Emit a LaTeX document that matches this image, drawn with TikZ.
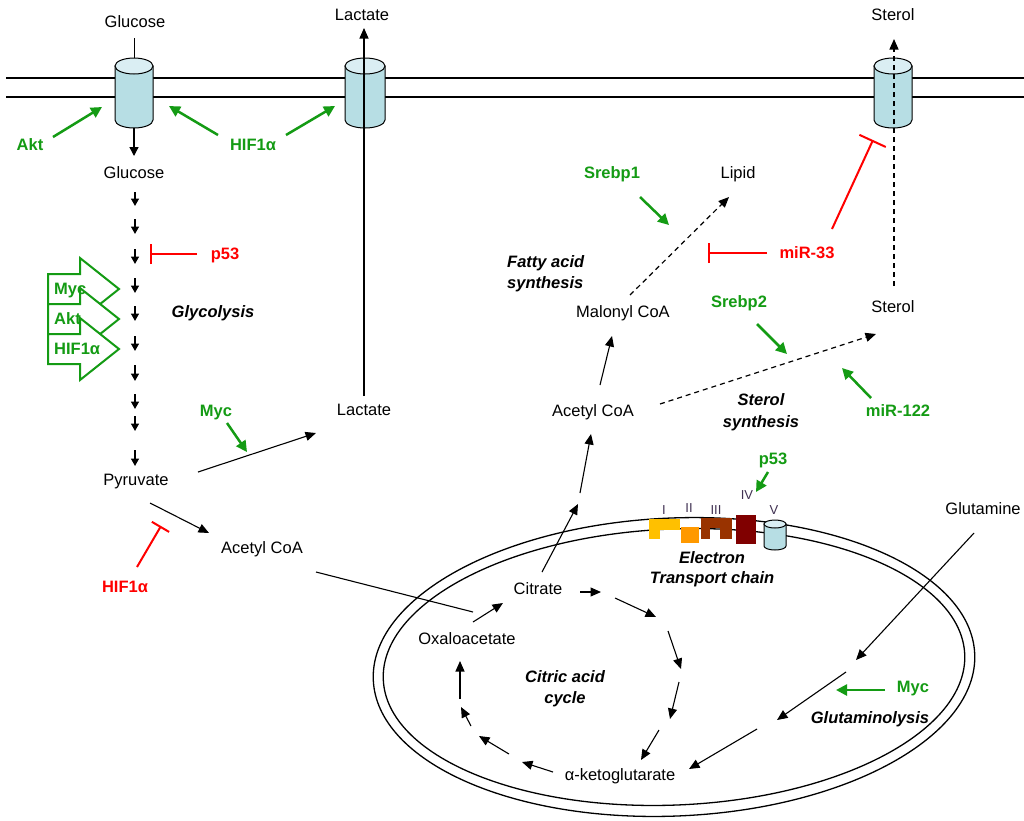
\documentclass[tikz,border=0pt]{standalone}
\usepackage{fontspec}
\setmainfont{Liberation Sans}
\usetikzlibrary{arrows.meta}
\definecolor{grn}{RGB}{20,155,20}
\definecolor{cylbody}{RGB}{183,222,228}
\definecolor{cyltop}{RGB}{218,238,243}
\definecolor{cI}{RGB}{255,192,0}
\definecolor{cII}{RGB}{255,153,0}
\definecolor{cIII}{RGB}{153,51,0}
\definecolor{cIV}{RGB}{128,0,0}
\definecolor{numc}{RGB}{64,49,82}
\newcommand\myfs{\fontsize{16.5}{19.5}\selectfont}
\newcommand\mycyl[5]{%
  \filldraw[fill=cylbody,line width=1pt] ({#1-#4},#2) -- ({#1-#4},#3) arc[start angle=180,end angle=0,x radius=#4,y radius=#5] -- ({#1+#4},#2) -- cycle;
  \filldraw[fill=cyltop,line width=1pt] (#1,#2) ellipse[x radius=#4,y radius=#5];
}
\begin{document}
\begin{tikzpicture}[x=1pt,y=-1pt,
  lbl/.style={font=\myfs, inner sep=0pt, text height=11.8pt, text depth=0pt},
  glbl/.style={lbl, font=\myfs\bfseries, text=grn},
  rlbl/.style={lbl, font=\myfs\bfseries, text=red},
  blbl/.style={lbl, font=\myfs\bfseries\itshape},
  nlbl/.style={inner sep=0pt, font=\fontsize{13}{15}\selectfont, text=numc, text height=9.3pt, text depth=0pt},
  arr/.style={line width=1.1pt, -{Triangle[length=10.5pt,width=9pt]}},
  sarr/.style={line width=1.5pt, -{Triangle[length=7.5pt,width=8pt]}},
  garr/.style={draw=grn, line width=2.5pt, -{Triangle[length=11pt,width=11pt]}},
  inh/.style={draw=red, line width=2pt, -{Bar[width=20pt]}},
  dsh/.style={line width=1.2pt, dash pattern=on 5pt off 4pt, -{Triangle[length=10.5pt,width=9pt]}},
  memb/.style={line width=1.3pt},
  blk/.style={fill=white, draw=grn, line width=2pt}
]
\useasboundingbox (0,0) rectangle (1024,820);
\fill[white] (0,0) rectangle (1024,820);

% cell membrane
\draw[memb] (6,78) -- (1024,78);
\draw[memb] (6,97) -- (1024,97);

% mitochondrion
\draw[memb, rotate around={2.5:(674,667)}] (674,667) ellipse[x radius=301, y radius=149];
\draw[memb, rotate around={2.5:(674,667)}] (674,667) ellipse[x radius=291, y radius=138];

% transporters
\mycyl{134}{66}{120}{19}{8}
\mycyl{365}{66}{120}{20}{8}
\mycyl{893}{66}{120}{19}{8}

% electron transport chain complexes
\filldraw[fill=cI, draw=cI] (649,519) -- (679,519) -- (679,529) -- (659,529) -- (659,538) -- (649,538) -- cycle;
\filldraw[fill=cII, draw=cII] (681,527) rectangle (698,542);
\filldraw[fill=cIII, draw=cIII] (701,518) -- (731,518) -- (731,538) -- (720,538) -- (720,527) -- (709,527) -- (709,538) -- (701,538) -- cycle;
\filldraw[fill=cIV, draw=cIV] (736,515) rectangle (755,543);
\mycyl{775}{524}{546}{11}{4}
\node[nlbl] (nI) at (664,510) {I};
\node[nlbl] (nII) at (689,508) {II};
\node[nlbl] (nIII) at (716,510) {III};
\node[nlbl] (nIV) at (747,495) {IV};
\node[nlbl] (nV) at (774,510) {V};

% green block arrows (glycolysis activators)
\foreach \c in {289, 319, 349}{
  \filldraw[blk] (48,\c-15) -- (80,\c-15) -- (80,\c-31) -- (119,\c) -- (80,\c+31) -- (80,\c+15) -- (48,\c+15) -- cycle;
}
\node[glbl, anchor=west] (bMyc) at (54,289) {Myc};
\node[glbl, anchor=west] (bAkt) at (54,319) {Akt};
\node[glbl, anchor=west] (bHif) at (54,349) {HIF1α};

% labels
\node[lbl] (gluTop) at (135,22) {Glucose};
\node[lbl] (lacTop) at (362,15) {Lactate};
\node[lbl] (stTop) at (893,15) {Sterol};
\node[glbl] (akt1) at (30,145) {Akt};
\node[glbl] (hif1) at (253,145) {HIF1α};
\node[lbl] (glu) at (134,173) {Glucose};
\node[rlbl] (p53a) at (225,254) {p53};
\node[blbl] (glyc) at (213,312) {Glycolysis};
\node[glbl] (myc1) at (216,411) {Myc};
\node[lbl] (lac) at (364,410) {Lactate};
\node[lbl] (pyr) at (136,480) {Pyruvate};
\node[lbl] (acoa1) at (262,548) {Acetyl CoA};
\node[rlbl] (hif2) at (125,587) {HIF1α};
\node[glbl] (srebp1) at (612,173) {Srebp1};
\node[lbl] (lipid) at (738,173) {Lipid};
\node[blbl, anchor=west] (fas1) at (507,262) {Fatty acid};
\node[blbl, anchor=west] (fas2) at (507,283) {synthesis};
\node[rlbl] (mir33) at (807,253) {miR-33};
\node[lbl] (mal) at (623,312) {Malonyl CoA};
\node[glbl] (srebp2) at (739,302) {Srebp2};
\node[lbl] (sterol) at (893,307) {Sterol};
\node[lbl] (acoa2) at (593,411) {Acetyl CoA};
\node[blbl] (sts1) at (761,400) {Sterol};
\node[blbl] (sts2) at (761,422) {synthesis};
\node[glbl] (mir122) at (898,411) {miR-122};
\node[glbl] (p53b) at (773,459) {p53};
\node[lbl] (gln) at (983,509) {Glutamine};
\node[lbl] (cit) at (538,589) {Citrate};
\node[lbl] (oaa) at (467,639) {Oxaloacetate};
\node[blbl] (cac1) at (565,677) {Citric acid};
\node[blbl] (cac2) at (565,698) {cycle};
\node[glbl] (myc2) at (913,687) {Myc};
\node[blbl] (glnl) at (870,718) {Glutaminolysis};
\node[lbl] (akg) at (620,775) {α-ketoglutarate};
\node[blbl] (etc1) at (712,558) {Electron};
\node[blbl] (etc2) at (712,578) {Transport chain};

% glucose import
\coordinate (gtA) at (134,38);
\coordinate (gtB) at (134,58);
\draw[line width=1pt] (gtA) -- (gtB);
\coordinate (gtC) at (134,128);
\coordinate (gtD) at (134,156);
\draw[line width=1.3pt, -{Triangle[length=9pt,width=9pt]}] (gtC) -- (gtD);

% lactate export
\coordinate (lxA) at (364,396);
\coordinate (lxB) at (364,28);
\draw[arr] (lxA) -- (lxB);

% sterol export
\coordinate (sxA) at (894,286);
\coordinate (sxB) at (894,39);
\draw[dsh] (sxA) -- (sxB);

% activators at the membrane
\coordinate (a1s) at (53,137); \coordinate (a1e) at (102,107);
\draw[garr] (a1s) -- (a1e);
\coordinate (h1s) at (218,135); \coordinate (h1e) at (169,106);
\draw[garr] (h1s) -- (h1e);
\coordinate (h2s) at (286,135); \coordinate (h2e) at (335,106);
\draw[garr] (h2s) -- (h2e);

% glycolysis steps
\foreach \ya/\yb [count=\i] in {192/206, 219/234, 249/264, 278/293, 306/321, 336/351, 365/381, 394/409, 416/431, 450/466}{
  \draw[sarr] (135,\ya) coordinate (gs\i) -- (135,\yb) coordinate (ge\i);
}

% p53 inhibition of glycolysis
\coordinate (p1s) at (197,254); \coordinate (p1e) at (150,254);
\draw[inh] (p1s) -- (p1e);

% pyruvate fates
\coordinate (m1s) at (227,423); \coordinate (m1e) at (247,452);
\draw[garr] (m1s) -- (m1e);
\coordinate (plA) at (198,472); \coordinate (plB) at (316,433);
\draw[arr] (plA) -- (plB);
\coordinate (paA) at (150,503); \coordinate (paB) at (209,533);
\draw[arr] (paA) -- (paB);
\coordinate (hiA) at (137,567); \coordinate (hiB) at (161,526);
\draw[inh] (hiA) -- (hiB);
\coordinate (acA) at (316,572); \coordinate (acB) at (473,612);
\draw[line width=1.1pt] (acA) -- (acB);

% citric acid cycle
\coordinate (oc1) at (473,622); \coordinate (oc2) at (503,603);
\draw[arr] (oc1) -- (oc2);
\foreach \xa/\ya/\xb/\yb [count=\i] in {580/592/601/592, 615/598/656/617, 668/631/681/669, 679/682/670/719, 659/730/641/760, 553/772/522/762, 509/754/479/736, 471/726/461/707, 460/699/460/661}{
  \draw[arr] (\xa,\ya) coordinate (cs\i) -- (\xb,\yb) coordinate (ce\i);
}

% citrate to lipid / sterol
\coordinate (ca1) at (542,572); \coordinate (ca2) at (578,504);
\draw[arr] (ca1) -- (ca2);
\coordinate (ca3) at (580,493); \coordinate (ca4) at (591,434);
\draw[arr] (ca3) -- (ca4);
\coordinate (am1) at (600,385); \coordinate (am2) at (612,336);
\draw[arr] (am1) -- (am2);
\coordinate (ml1) at (630,295); \coordinate (ml2) at (729,197);
\draw[dsh] (ml1) -- (ml2);
\coordinate (sb1s) at (640,197); \coordinate (sb1e) at (669,225);
\draw[garr] (sb1s) -- (sb1e);
\coordinate (mi1s) at (767,253); \coordinate (mi1e) at (708,253);
\draw[inh] (mi1s) -- (mi1e);
\coordinate (mi2s) at (832,229); \coordinate (mi2e) at (873,140);
\draw[draw=red, line width=2pt, -{Bar[width=29pt]}] (mi2s) -- (mi2e);
\coordinate (sb2s) at (757,324); \coordinate (sb2e) at (787,354);
\draw[garr] (sb2s) -- (sb2e);
\coordinate (as1) at (660,404); \coordinate (as2) at (876,334);
\draw[dsh] (as1) -- (as2);
\coordinate (m122s) at (871,398); \coordinate (m122e) at (842,368);
\draw[garr] (m122s) -- (m122e);
\coordinate (p2s) at (768,472); \coordinate (p2e) at (756,492);
\draw[garr] (p2s) -- (p2e);

% glutaminolysis
\coordinate (gl1) at (974,533); \coordinate (gl2) at (856,660);
\draw[arr] (gl1) -- (gl2);
\coordinate (gl3) at (846,672); \coordinate (gl4) at (777,720);
\draw[arr] (gl3) -- (gl4);
\coordinate (gl5) at (757,729); \coordinate (gl6) at (689,769);
\draw[arr] (gl5) -- (gl6);
\coordinate (m2s) at (885,690); \coordinate (m2e) at (836,690);
\draw[garr] (m2s) -- (m2e);
\end{tikzpicture}
\end{document}
